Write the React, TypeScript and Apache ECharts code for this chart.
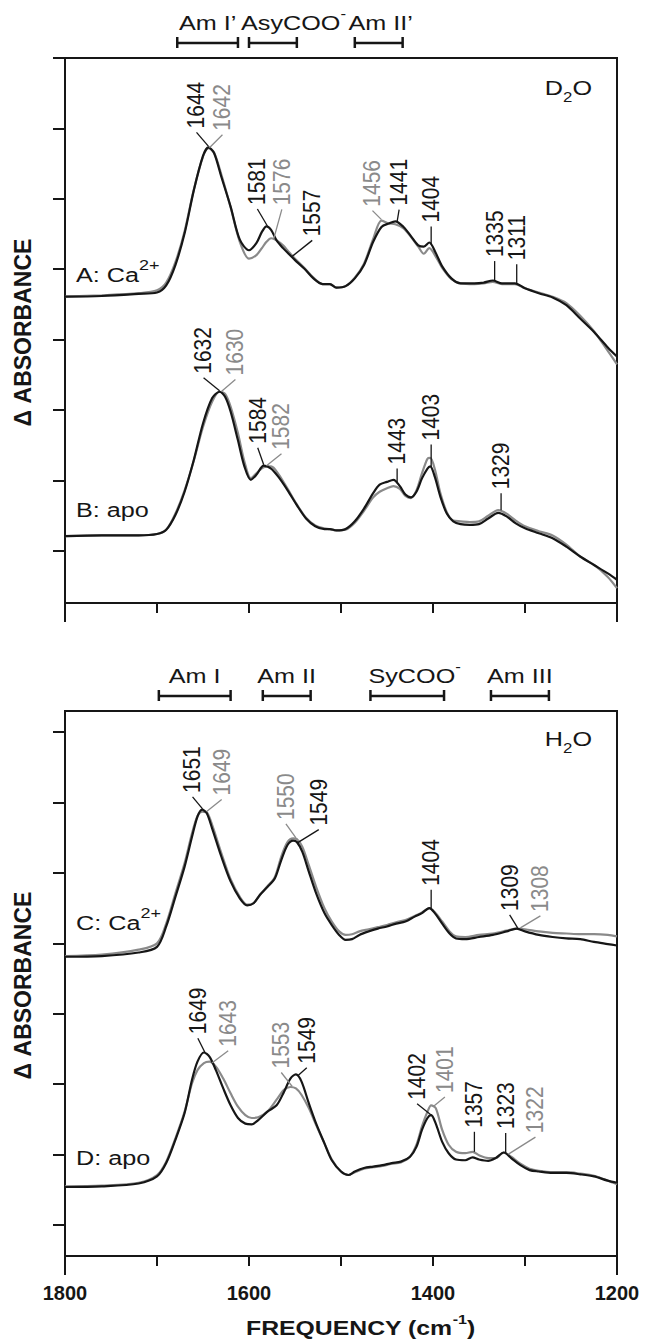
import React, { useEffect, useRef } from 'react';
import * as echarts from 'echarts';

// ---------------- data ----------------
// Panel A: D2O, Ca2+  (black = one sample, gray = the other)
const FREQ_A = [1800, 1760, 1720, 1700, 1690, 1680, 1670, 1660, 1650, 1644, 1638, 1630, 1620, 1610, 1600, 1592, 1586, 1581, 1576, 1570, 1563, 1557, 1550, 1540, 1530, 1520, 1512, 1505, 1495, 1485, 1475, 1465, 1456, 1448, 1441, 1432, 1424, 1416, 1410, 1404, 1397, 1390, 1380, 1370, 1355, 1345, 1335, 1325, 1311, 1300, 1285, 1270, 1255, 1240, 1225, 1210, 1200];
const A_CA_BLACK = [4.35, 4.36, 4.39, 4.41, 4.51, 4.80, 5.25, 5.86, 6.35, 6.47, 6.39, 6.05, 5.63, 5.16, 5.01, 5.11, 5.27, 5.35, 5.30, 5.15, 5.04, 4.96, 4.87, 4.75, 4.61, 4.53, 4.53, 4.48, 4.50, 4.61, 4.80, 5.13, 5.34, 5.39, 5.42, 5.34, 5.21, 5.08, 5.06, 5.12, 4.97, 4.78, 4.61, 4.54, 4.54, 4.55, 4.58, 4.54, 4.54, 4.47, 4.40, 4.34, 4.23, 4.04, 3.85, 3.63, 3.50];
const A_CA_GRAY = [4.35, 4.37, 4.40, 4.44, 4.55, 4.84, 5.28, 5.87, 6.34, 6.46, 6.40, 6.08, 5.62, 5.13, 4.89, 4.94, 5.04, 5.13, 5.18, 5.15, 5.08, 4.99, 4.89, 4.76, 4.62, 4.53, 4.53, 4.48, 4.50, 4.62, 4.82, 5.17, 5.43, 5.39, 5.38, 5.32, 5.20, 5.06, 4.96, 5.04, 4.92, 4.76, 4.60, 4.54, 4.53, 4.54, 4.56, 4.53, 4.53, 4.47, 4.41, 4.35, 4.26, 4.08, 3.86, 3.58, 3.39];

// Panel B: D2O, apo
const FREQ_B = [1800, 1760, 1720, 1700, 1690, 1680, 1670, 1660, 1650, 1640, 1632, 1626, 1620, 1612, 1605, 1598, 1592, 1584, 1576, 1568, 1558, 1548, 1538, 1528, 1518, 1512, 1505, 1495, 1485, 1475, 1465, 1458, 1450, 1443, 1436, 1430, 1424, 1418, 1412, 1406, 1403, 1398, 1392, 1385, 1378, 1370, 1360, 1350, 1340, 1329, 1320, 1310, 1300, 1285, 1270, 1255, 1240, 1225, 1210, 1200];
const B_APO_BLACK = [0.95, 0.96, 0.96, 0.98, 1.04, 1.25, 1.58, 2.03, 2.55, 2.91, 3.00, 2.93, 2.72, 2.31, 1.94, 1.75, 1.82, 1.95, 1.91, 1.79, 1.60, 1.39, 1.20, 1.09, 1.05, 1.05, 1.03, 1.05, 1.16, 1.34, 1.56, 1.68, 1.72, 1.75, 1.66, 1.54, 1.50, 1.58, 1.77, 1.91, 1.94, 1.79, 1.51, 1.27, 1.16, 1.12, 1.11, 1.12, 1.20, 1.28, 1.23, 1.13, 1.06, 0.99, 0.92, 0.80, 0.66, 0.54, 0.42, 0.33];
const B_APO_GRAY = [0.95, 0.96, 0.96, 0.98, 1.04, 1.27, 1.60, 2.02, 2.50, 2.86, 3.00, 2.97, 2.79, 2.41, 2.01, 1.77, 1.84, 1.93, 1.94, 1.83, 1.62, 1.40, 1.21, 1.10, 1.06, 1.05, 1.03, 1.04, 1.14, 1.31, 1.50, 1.58, 1.63, 1.66, 1.62, 1.52, 1.49, 1.60, 1.84, 2.05, 2.06, 1.90, 1.56, 1.29, 1.17, 1.16, 1.15, 1.16, 1.24, 1.32, 1.27, 1.17, 1.09, 1.02, 0.96, 0.83, 0.66, 0.54, 0.37, 0.21];

// Panel C: H2O, Ca2+
const FREQ_C = [1800, 1760, 1720, 1700, 1690, 1680, 1670, 1662, 1656, 1651, 1646, 1640, 1630, 1620, 1610, 1602, 1595, 1588, 1580, 1572, 1565, 1558, 1552, 1548, 1542, 1535, 1527, 1518, 1510, 1502, 1495, 1488, 1480, 1470, 1460, 1450, 1440, 1430, 1420, 1412, 1404, 1398, 1390, 1382, 1375, 1365, 1350, 1335, 1320, 1309, 1300, 1285, 1270, 1255, 1240, 1225, 1210, 1200];
const C_CA_BLACK = [4.25, 4.26, 4.31, 4.39, 4.68, 5.10, 5.53, 5.95, 6.24, 6.34, 6.29, 6.07, 5.67, 5.32, 5.08, 4.98, 5.01, 5.13, 5.24, 5.36, 5.62, 5.84, 5.90, 5.88, 5.74, 5.46, 5.15, 4.87, 4.70, 4.56, 4.49, 4.50, 4.56, 4.61, 4.65, 4.68, 4.72, 4.75, 4.82, 4.87, 4.94, 4.87, 4.72, 4.58, 4.51, 4.50, 4.53, 4.56, 4.61, 4.65, 4.61, 4.56, 4.53, 4.51, 4.50, 4.46, 4.43, 4.41];
const C_CA_GRAY = [4.26, 4.28, 4.35, 4.44, 4.72, 5.15, 5.58, 6.00, 6.25, 6.31, 6.30, 6.12, 5.72, 5.35, 5.10, 4.99, 5.01, 5.13, 5.25, 5.38, 5.67, 5.88, 5.93, 5.92, 5.81, 5.55, 5.24, 4.94, 4.75, 4.61, 4.56, 4.57, 4.61, 4.64, 4.67, 4.70, 4.74, 4.77, 4.83, 4.88, 4.94, 4.88, 4.75, 4.61, 4.54, 4.53, 4.56, 4.58, 4.62, 4.65, 4.64, 4.61, 4.59, 4.58, 4.57, 4.57, 4.56, 4.54];

// Panel D: H2O, apo
const FREQ_D = [1800, 1760, 1720, 1700, 1690, 1680, 1670, 1662, 1656, 1649, 1643, 1636, 1628, 1620, 1612, 1604, 1597, 1590, 1580, 1570, 1562, 1555, 1549, 1543, 1535, 1527, 1518, 1510, 1500, 1492, 1485, 1475, 1465, 1455, 1445, 1435, 1425, 1418, 1412, 1406, 1402, 1397, 1390, 1383, 1375, 1365, 1357, 1350, 1340, 1332, 1323, 1315, 1305, 1295, 1285, 1270, 1255, 1240, 1225, 1210, 1200];
const D_APO_BLACK = [0.98, 0.99, 1.03, 1.13, 1.32, 1.65, 2.03, 2.50, 2.76, 2.89, 2.83, 2.64, 2.38, 2.14, 1.96, 1.88, 1.87, 1.93, 2.05, 2.14, 2.33, 2.52, 2.58, 2.48, 2.17, 1.88, 1.60, 1.36, 1.20, 1.15, 1.20, 1.25, 1.27, 1.29, 1.32, 1.34, 1.41, 1.55, 1.79, 1.96, 2.00, 1.88, 1.62, 1.46, 1.37, 1.36, 1.40, 1.37, 1.35, 1.39, 1.47, 1.39, 1.29, 1.22, 1.20, 1.18, 1.18, 1.16, 1.13, 1.07, 1.04];
const D_APO_GRAY = [0.99, 1.00, 1.04, 1.15, 1.34, 1.67, 2.05, 2.45, 2.64, 2.74, 2.76, 2.69, 2.52, 2.31, 2.12, 2.00, 1.96, 1.97, 2.05, 2.22, 2.36, 2.40, 2.38, 2.29, 2.10, 1.86, 1.60, 1.37, 1.20, 1.15, 1.19, 1.24, 1.26, 1.28, 1.31, 1.33, 1.41, 1.58, 1.84, 2.05, 2.14, 2.10, 1.79, 1.58, 1.48, 1.46, 1.48, 1.43, 1.39, 1.39, 1.47, 1.41, 1.31, 1.24, 1.21, 1.19, 1.19, 1.17, 1.14, 1.07, 1.02];

// axis ticks
const X_MIN = 1200;
const X_MAX = 1800;
const X_STEP = 100;
const Y_MAX = 7.74;
const Y_TICKS_TOP = [0.74, 1.74, 2.74, 3.74, 4.74, 5.74, 6.74, 7.74];
const Y_TICKS_BOTTOM = [0.44, 1.44, 2.44, 3.44, 4.44, 5.44, 6.44, 7.44];

// ---------------- styles / layout ----------------
const BLACK = '#161616';
const GRAY = '#8a8a8a';
const FONT = '"Liberation Sans", Arial, Helvetica, sans-serif';
const SX = 1.2; // horizontal stretch of the original lettering

const SERIES = [
  { key: 'aGray', grid: 0, freq: FREQ_A, vals: A_CA_GRAY, color: GRAY },
  { key: 'aBlack', grid: 0, freq: FREQ_A, vals: A_CA_BLACK, color: BLACK },
  { key: 'bGray', grid: 0, freq: FREQ_B, vals: B_APO_GRAY, color: GRAY },
  { key: 'bBlack', grid: 0, freq: FREQ_B, vals: B_APO_BLACK, color: BLACK },
  { key: 'cGray', grid: 1, freq: FREQ_C, vals: C_CA_GRAY, color: GRAY },
  { key: 'cBlack', grid: 1, freq: FREQ_C, vals: C_CA_BLACK, color: BLACK },
  { key: 'dGray', grid: 1, freq: FREQ_D, vals: D_APO_GRAY, color: GRAY },
  { key: 'dBlack', grid: 1, freq: FREQ_D, vals: D_APO_BLACK, color: BLACK },
];

// peak labels: anchored on a curve at frequency `at`, leader tip offset (dx, dy) in px
const PEAKS = [
  { s: 'aBlack', text: '1644', at: 1644, dx: -12, dy: -15 },
  { s: 'aGray', text: '1642', at: 1643, dx: 13, dy: -14 },
  { s: 'aBlack', text: '1581', at: 1580, dx: -10, dy: -18 },
  { s: 'aGray', text: '1576', at: 1573, dx: 8, dy: -30 },
  { s: 'aBlack', text: '1557', at: 1553, dx: 20, dy: -17 },
  { s: 'aGray', text: '1456', at: 1456, dx: -9, dy: -10 },
  { s: 'aBlack', text: '1441', at: 1439, dx: 2, dy: -13 },
  { s: 'aBlack', text: '1404', at: 1402, dx: 0, dy: -19 },
  { s: 'aBlack', text: '1335', at: 1333, dx: 0, dy: -20 },
  { s: 'aBlack', text: '1311', at: 1309, dx: 0, dy: -20 },
  { s: 'bBlack', text: '1632', at: 1632, dx: -16, dy: -14 },
  { s: 'bGray', text: '1630', at: 1630, dx: 14, dy: -13 },
  { s: 'bBlack', text: '1584', at: 1584, dx: -6, dy: -18 },
  { s: 'bGray', text: '1582', at: 1581, dx: 15, dy: -13 },
  { s: 'bBlack', text: '1443', at: 1439, dx: 0, dy: -15 },
  { s: 'bBlack', text: '1403', at: 1402, dx: 0, dy: -24 },
  { s: 'bGray', text: '1329', at: 1326, dx: 0, dy: -18, color: BLACK },
  { s: 'cBlack', text: '1651', at: 1650.5, dx: -10, dy: -13 },
  { s: 'cGray', text: '1649', at: 1646, dx: 15, dy: -13 },
  { s: 'cGray', text: '1550', at: 1549, dx: -10, dy: -15 },
  { s: 'cBlack', text: '1549', at: 1547, dx: 21, dy: -14 },
  { s: 'cBlack', text: '1404', at: 1402, dx: 0, dy: -20 },
  { s: 'cBlack', text: '1309', at: 1308, dx: -8, dy: -14 },
  { s: 'cGray', text: '1308', at: 1305, dx: 20, dy: -13 },
  { s: 'dBlack', text: '1649', at: 1648, dx: -7, dy: -15 },
  { s: 'dGray', text: '1643', at: 1640, dx: 16, dy: -13 },
  { s: 'dGray', text: '1553', at: 1553, dx: -11, dy: -15 },
  { s: 'dBlack', text: '1549', at: 1547, dx: 9, dy: -9 },
  { s: 'dBlack', text: '1402', at: 1401, dx: -15, dy: -13 },
  { s: 'dGray', text: '1401', at: 1399, dx: 11, dy: -10 },
  { s: 'dGray', text: '1357', at: 1355, dx: 0, dy: -21, color: BLACK },
  { s: 'dBlack', text: '1323', at: 1321, dx: 0, dy: -21 },
  { s: 'dGray', text: '1322', at: 1318, dx: 27, dy: -18 },
];

type Part = { t: string; size: number; bold?: boolean; dy?: number };

// band brackets above each panel (frequency ranges)
const BANDS: { grid: number; from: number; to: number; label: Part[]; align: 'center' | 'left'; dx: number }[] = [
  { grid: 0, from: 1678, to: 1612, label: [{ t: 'Am I\u2019', size: 21 }], align: 'center', dx: 0 },
  { grid: 0, from: 1600, to: 1548, label: [{ t: 'AsyCOO', size: 21 }, { t: '-', size: 14, dy: -11 }], align: 'left', dx: -8 },
  { grid: 0, from: 1485, to: 1433, label: [{ t: 'Am II\u2019', size: 21 }], align: 'center', dx: 2 },
  { grid: 1, from: 1698, to: 1620, label: [{ t: 'Am I', size: 21 }], align: 'center', dx: 0 },
  { grid: 1, from: 1585, to: 1533, label: [{ t: 'Am II', size: 21 }], align: 'center', dx: 0 },
  { grid: 1, from: 1468, to: 1388, label: [{ t: 'SyCOO', size: 21 }, { t: '-', size: 14, dy: -11 }], align: 'left', dx: -2 },
  { grid: 1, from: 1337, to: 1274, label: [{ t: 'Am III', size: 21 }], align: 'center', dx: 0 },
];

const PANEL_LABELS: { x: number; y: number; parts: Part[] }[] = [
  { x: 76, y: 282, parts: [{ t: 'A: Ca', size: 21 }, { t: '2+', size: 15, dy: -12 }] },
  { x: 76, y: 517, parts: [{ t: 'B: apo', size: 21 }] },
  { x: 76, y: 930, parts: [{ t: 'C: Ca', size: 21 }, { t: '2+', size: 15, dy: -12 }] },
  { x: 76, y: 1165, parts: [{ t: 'D: apo', size: 21 }] },
];

let measureCtx: CanvasRenderingContext2D | null = null;
function measure(t: string, size: number, bold?: boolean) {
  if (!measureCtx) measureCtx = document.createElement('canvas').getContext('2d');
  if (!measureCtx) return t.length * size * 0.56;
  measureCtx.font = `${bold ? 'bold ' : ''}${size}px ${FONT}`;
  return measureCtx.measureText(t).width;
}

function textStyle(text: string, size: number, color: string, bold: boolean, align: string, valign: string) {
  return {
    text,
    fontSize: size,
    fontFamily: FONT,
    fontWeight: bold ? 'bold' : 'normal',
    fill: color,
    textAlign: align,
    align,
    textVerticalAlign: valign,
    verticalAlign: valign,
  };
}

function partsGroup(list: Part[], x: number, baseline: number, align: 'left' | 'center' | 'right', color: string, sx = SX) {
  let w = 0;
  const children: any[] = [];
  for (const p of list) {
    children.push({
      type: 'text',
      x: w,
      y: (p.dy || 0) - 0.3465 * p.size,
      z: 100,
      silent: true,
      style: textStyle(p.t, p.size, color, !!p.bold, 'left', 'middle'),
    });
    w += measure(p.t, p.size, p.bold);
  }
  const left = align === 'center' ? x - (w * sx) / 2 : align === 'right' ? x - w * sx : x;
  return { type: 'group', x: left, y: baseline, scaleX: sx, scaleY: 1, silent: true, z: 100, children };
}

function interp(fr: number[], vs: number[], f: number) {
  for (let i = 0; i < fr.length - 1; i++) {
    const a = fr[i];
    const b = fr[i + 1];
    if (f <= a && f >= b) {
      const t = (a - f) / (a - b);
      return vs[i] + (vs[i + 1] - vs[i]) * t;
    }
  }
  return vs[vs.length - 1];
}

function line(x1: number, y1: number, x2: number, y2: number, color: string, w: number) {
  return { type: 'line', silent: true, z: 100, shape: { x1, y1, x2, y2 }, style: { stroke: color, lineWidth: w } };
}

function buildGraphics(chart: any) {
  const els: any[] = [];
  const px = (gi: number, f: number, v: number) => chart.convertToPixel({ gridIndex: gi }, [f, v]) as number[];
  const box = (gi: number) => {
    const [l, t] = px(gi, X_MAX, Y_MAX);
    const [r, b] = px(gi, X_MIN, 0);
    return { l, t, r, b };
  };

  // extended end ticks of the frequency axes
  for (const gi of [0, 1]) {
    const bx = box(gi);
    els.push(line(bx.l, bx.b, bx.l, bx.b + 19, BLACK, 2));
    els.push(line(bx.r, bx.b, bx.r, bx.b + 19, BLACK, 2));
  }

  // bands
  for (const bd of BANDS) {
    const bx = box(bd.grid);
    const [x1] = px(bd.grid, bd.from, 0);
    const [x2] = px(bd.grid, bd.to, 0);
    const y = bx.t - 15;
    els.push(line(x1, y, x2, y, BLACK, 2.5));
    els.push(line(x1, y - 6, x1, y + 5, BLACK, 2.5));
    els.push(line(x2, y - 6, x2, y + 5, BLACK, 2.5));
    const lx = bd.align === 'center' ? (x1 + x2) / 2 + bd.dx : x1 + bd.dx;
    els.push(partsGroup(bd.label, lx, bx.t - 28, bd.align, BLACK));
  }

  // solvent labels
  const b0 = box(0);
  const b1 = box(1);
  els.push(partsGroup([{ t: 'D', size: 21 }, { t: '2', size: 14, dy: 6.5 }, { t: 'O', size: 21 }], b0.r - 25, b0.t + 37, 'right', BLACK));
  els.push(partsGroup([{ t: 'H', size: 21 }, { t: '2', size: 14, dy: 6.5 }, { t: 'O', size: 21 }], b1.r - 25, b1.t + 35, 'right', BLACK));

  // panel labels
  for (const pl of PANEL_LABELS) els.push(partsGroup(pl.parts, pl.x, pl.y, 'left', BLACK));

  // peak labels
  for (const pk of PEAKS) {
    const s = SERIES.find((q) => q.key === pk.s)!;
    const color = (pk as any).color || s.color;
    const [ax, ay] = px(s.grid, pk.at, interp(s.freq, s.vals, pk.at));
    const tx = ax + pk.dx;
    const ty = ay + pk.dy;
    els.push(line(ax, ay - 1, tx, ty, color, 1.3));
    els.push({
      type: 'text',
      x: tx,
      y: ty - 4,
      rotation: Math.PI / 2,
      scaleY: 1.12,
      silent: true,
      z: 100,
      style: textStyle(pk.text, 21, color, false, 'left', 'middle'),
    });
  }

  // y axis names
  for (const bx of [b0, b1]) {
    els.push({
      type: 'text',
      x: 23,
      y: (bx.t + bx.b) / 2 + 2,
      rotation: Math.PI / 2,
      silent: true,
      z: 100,
      style: textStyle('\u0394 ABSORBANCE', 23, BLACK, true, 'center', 'middle'),
    });
  }

  // x axis name
  els.push(
    partsGroup(
      [
        { t: 'FREQUENCY (cm', size: 20, bold: true },
        { t: '-1', size: 13, bold: true, dy: -11 },
        { t: ')', size: 20, bold: true },
      ],
      246,
      b1.b + 79,
      'left',
      BLACK,
      1.24,
    ),
  );
  return els;
}

function baseOption() {
  const grids = [
    { left: 65, top: 58, width: 552, height: 545 },
    { left: 65, top: 711, width: 552, height: 545 },
  ].map((g) => ({ ...g, show: true, borderColor: BLACK, borderWidth: 2, backgroundColor: 'transparent', containLabel: false }));

  const xAxis = [0, 1].map((i) => ({
    type: 'value',
    gridIndex: i,
    min: X_MIN,
    max: X_MAX,
    interval: X_STEP,
    inverse: true,
    axisLine: { show: true, onZero: false, lineStyle: { color: BLACK, width: 2 } },
    axisTick: { show: true, inside: false, length: 10, lineStyle: { color: BLACK, width: 2 } },
    axisLabel: {
      show: i === 1,
      formatter: (v: number) => (v % 200 === 0 ? String(v) : ''),
      fontSize: 20,
      fontWeight: 'bold',
      fontFamily: FONT,
      color: BLACK,
      margin: 27,
    },
    splitLine: { show: false },
  }));

  const yAxis = [0, 1].map((i) => ({
    type: 'value',
    gridIndex: i,
    min: 0,
    max: Y_MAX,
    axisLine: { show: true, onZero: false, lineStyle: { color: BLACK, width: 2 } },
    axisTick: {
      show: true,
      inside: false,
      length: 12,
      customValues: i === 0 ? Y_TICKS_TOP : Y_TICKS_BOTTOM,
      lineStyle: { color: BLACK, width: 2 },
    },
    axisLabel: { show: false },
    splitLine: { show: false },
  }));

  const series = SERIES.map((s) => ({
    type: 'line',
    name: s.key,
    xAxisIndex: s.grid,
    yAxisIndex: s.grid,
    data: s.freq.map((f, i) => [f, s.vals[i]]),
    showSymbol: false,
    symbol: 'none',
    smooth: 0.3,
    silent: true,
    lineStyle: { color: s.color, width: 2.2 },
    z: s.color === BLACK ? 3 : 2,
  }));

  return { animation: false, backgroundColor: '#ffffff', grid: grids, xAxis, yAxis, series };
}

export default function App() {
  const ref = useRef<HTMLDivElement>(null);
  useEffect(() => {
    document.body.style.margin = '0';
    const chart = echarts.init(ref.current!, null, { renderer: 'svg' });
    chart.setOption(baseOption() as any);
    chart.setOption({ graphic: { elements: buildGraphics(chart) } } as any);
    return () => chart.dispose();
  }, []);
  return <div ref={ref} style={{ position: 'absolute', left: 0, top: 0, width: 647, height: 1343 }} />;
}
